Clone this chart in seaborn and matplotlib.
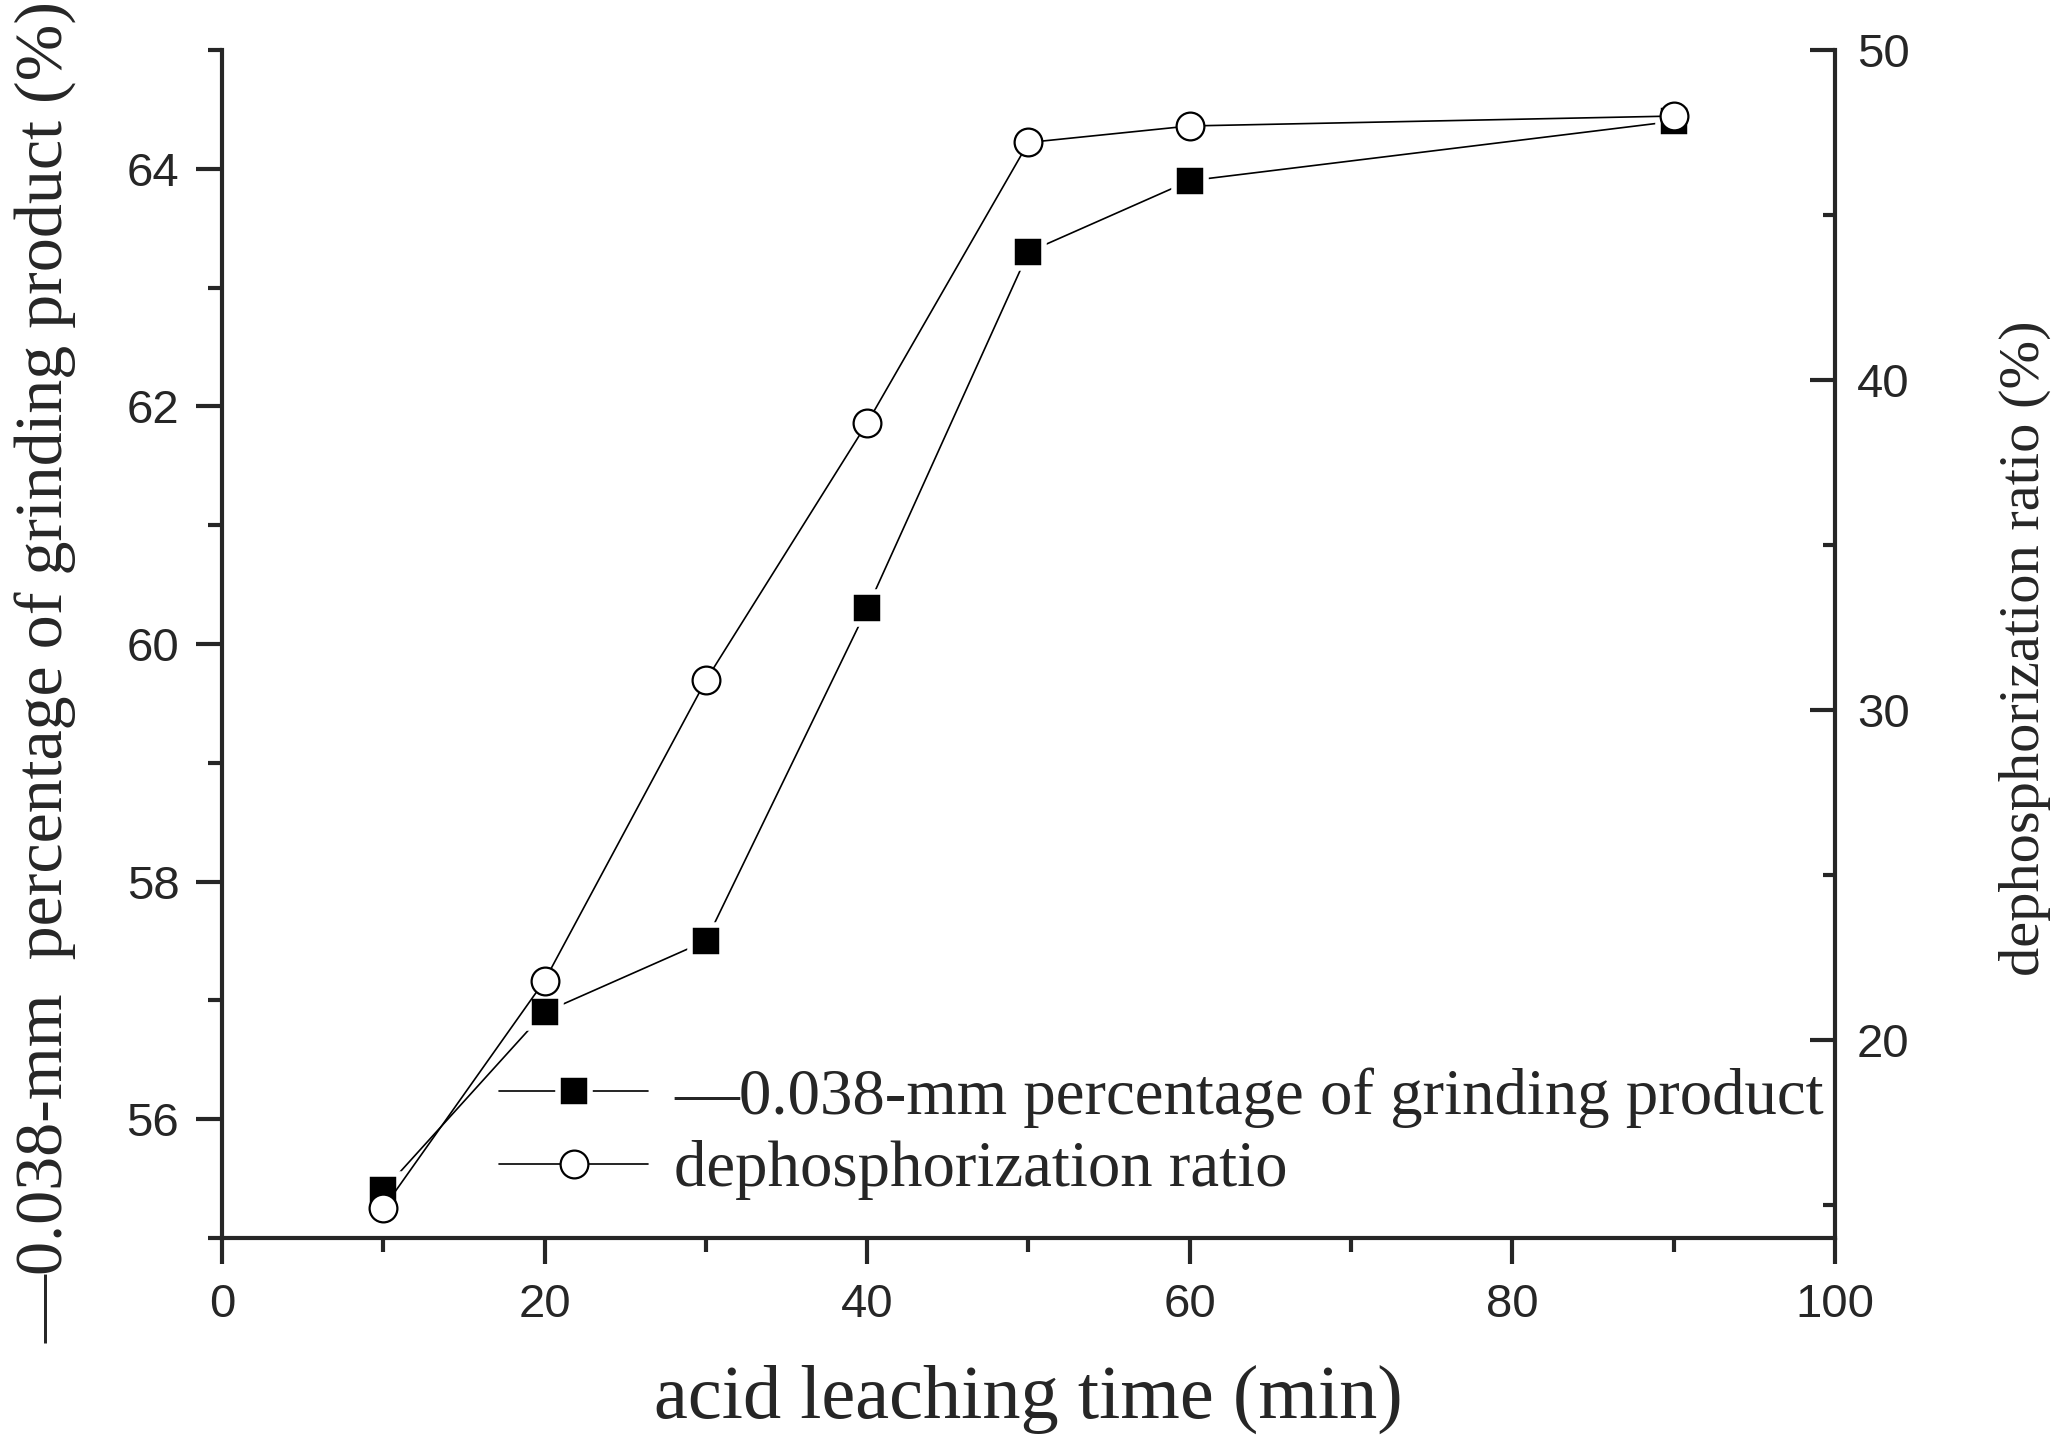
import matplotlib
matplotlib.use("Agg")
import matplotlib.pyplot as plt
import seaborn as sns
from matplotlib.font_manager import FontProperties
from matplotlib.ticker import MultipleLocator

# acid leaching time (min)
time_min = [10, 20, 30, 40, 50, 60, 90]
# -0.038 mm fraction of the grinding product (%), left axis
fine_pct = [55.4, 56.9, 57.5, 60.3, 63.3, 63.9, 64.4]
# dephosphorization ratio (%), right axis
dephos_pct = [14.9, 21.8, 30.9, 38.7, 47.2, 47.7, 48.0]

x_ticks = [0, 20, 40, 60, 80, 100]
left_ticks = [56, 58, 60, 62, 64]
right_ticks = [20, 30, 40, 50]

label_fine = "—0.038-mm percentage of grinding product"
label_dephos = "dephosphorization ratio"

sns.set_style("ticks")
plt.rcParams["font.family"] = ["Liberation Sans", "DejaVu Sans"]
plt.rcParams["axes.linewidth"] = 1.5
serif = "Liberation Serif"

fig = plt.figure(figsize=(10.32, 7.235), dpi=200)
ax = fig.add_axes([0.1076, 0.1445, 0.7814, 0.8209])
ax2 = ax.twinx()

# squares: white edge gives the small gap between line and marker
sns.lineplot(x=time_min, y=fine_pct, ax=ax, color="black", linewidth=0.6,
             marker="s", markersize=11.2, markerfacecolor="black",
             markeredgecolor="white", markeredgewidth=2, label=label_fine)
sns.lineplot(x=time_min, y=dephos_pct, ax=ax2, color="black", linewidth=0.6,
             marker="o", markersize=10, markerfacecolor="white",
             markeredgecolor="black", markeredgewidth=0.8, label=label_dephos)

# axis ranges and ticks
ax.set_xlim(0, 100)
ax.set_ylim(55, 65)
ax2.set_ylim(14, 50)
ax.set_xticks(x_ticks)
ax.set_yticks(left_ticks)
ax2.set_yticks(right_ticks)
ax.xaxis.set_minor_locator(MultipleLocator(10))
ax.yaxis.set_minor_locator(MultipleLocator(1))
ax2.yaxis.set_minor_locator(MultipleLocator(5))

ax.spines["top"].set_visible(False)
ax.spines["right"].set_visible(False)
for side in ["top", "left", "bottom"]:
    ax2.spines[side].set_visible(False)
ax2.spines["right"].set_linewidth(1.5)

ax.tick_params(which="major", direction="out", length=9.4, width=1.5,
               labelsize=17, top=False, right=False)
ax.tick_params(which="minor", direction="out", length=5, width=1.5,
               top=False, right=False)
ax.tick_params(axis="y", which="major", pad=6)
ax.tick_params(axis="x", which="major", pad=7)
ax2.tick_params(axis="y", which="major", direction="in", length=9, width=1.5,
                labelsize=17, pad=8)
ax2.tick_params(axis="y", which="minor", direction="in", length=4.5, width=1.5)

# labels
ax.set_ylabel("")
ax2.set_ylabel("")
ax.set_xlabel("acid leaching time (min)",
              fontproperties=FontProperties(family=serif, size=27.5))
ax.xaxis.set_label_coords(0.5, -0.136)
ax.xaxis.label.set_va("center")
fig.text(0.0223, 0.0719, "—0.038-mm  percentage of grinding product (%)",
         rotation=90, ha="center", va="bottom",
         fontproperties=FontProperties(family=serif, size=24.5))
fig.text(0.981, 0.552, "dephosphorization ratio (%)", rotation=90,
         ha="center", va="center",
         fontproperties=FontProperties(family=serif, size=21))

# one legend for both axes
h1, l1 = ax.get_legend_handles_labels()
h2, l2 = ax2.get_legend_handles_labels()
ax.get_legend().remove()
ax2.get_legend().remove()
ax2.legend(h1 + h2, l1 + l2, loc="center left", bbox_to_anchor=(0.172, 0.0875),
           frameon=False, prop=FontProperties(family=serif, size=23.3),
           handlelength=2.3, handletextpad=0.4, labelspacing=0.19,
           borderpad=0, borderaxespad=0)

fig.savefig("out.png", dpi=200)
